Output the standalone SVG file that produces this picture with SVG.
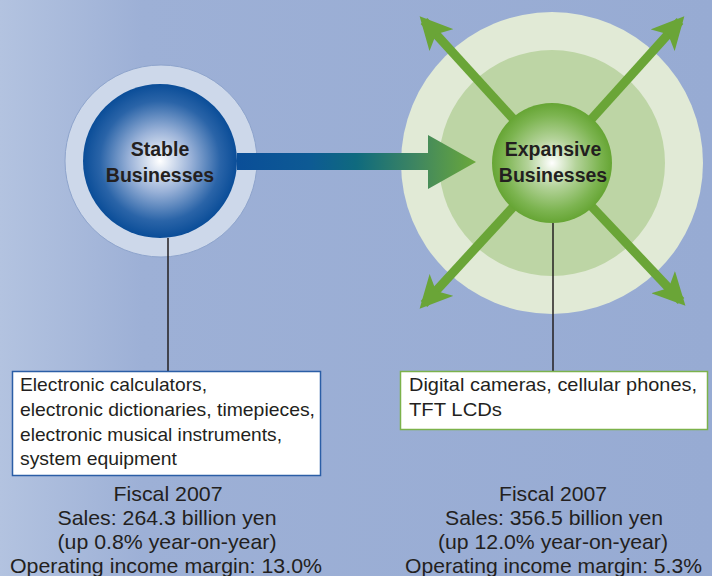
<svg xmlns="http://www.w3.org/2000/svg" width="712" height="576" viewBox="0 0 712 576">
<defs>
<linearGradient id="bg" x1="0" y1="0" x2="1" y2="0">
<stop offset="0" stop-color="#b3c3e0"/>
<stop offset="0.2" stop-color="#9db0d6"/>
<stop offset="1" stop-color="#97abd3"/>
</linearGradient>
<radialGradient id="blue" cx="0.5" cy="0.5" r="0.5">
<stop offset="0" stop-color="#ffffff"/>
<stop offset="0.4" stop-color="#9ab2d8"/>
<stop offset="0.78" stop-color="#2a64a8"/>
<stop offset="1" stop-color="#0a4d98"/>
</radialGradient>
<radialGradient id="green" cx="0.5" cy="0.5" r="0.5">
<stop offset="0" stop-color="#ffffff"/>
<stop offset="0.4" stop-color="#b4d39a"/>
<stop offset="0.8" stop-color="#7cb450"/>
<stop offset="1" stop-color="#66a534"/>
</radialGradient>
<linearGradient id="arr" x1="237" y1="0" x2="476" y2="0" gradientUnits="userSpaceOnUse">
<stop offset="0" stop-color="#0a4e98"/>
<stop offset="0.3" stop-color="#0d5a94"/>
<stop offset="0.5" stop-color="#0f6a7e"/>
<stop offset="0.75" stop-color="#3f8660"/>
<stop offset="1" stop-color="#6aa83a"/>
</linearGradient>
<marker id="gh" viewBox="0 0 10 10" refX="8" refY="5" markerWidth="3.6" markerHeight="3.6" orient="auto" markerUnits="strokeWidth">
<path d="M0,0 L10,5 L0,10 L2.5,5 Z" fill="#6aa537"/>
</marker>
<style>
.lbl{font-family:"Liberation Sans",Arial,sans-serif;font-weight:bold;font-size:19.5px;fill:#231f20;text-anchor:middle}
.box{font-family:"Liberation Sans",Arial,sans-serif;font-size:19px;fill:#231f20}
.fig{font-family:"Liberation Sans",Arial,sans-serif;font-size:21px;fill:#231f20;text-anchor:middle}
.diag{stroke:#6aa537;stroke-width:9;fill:none;marker-end:url(#gh)}
.lead{stroke:#231f20;stroke-width:1.5}
</style>
</defs>
<rect x="0" y="0" width="712" height="576" fill="url(#bg)"/>

<g id="expansive-halo">
<circle cx="552" cy="163" r="151" fill="#e1ead6"/>
<circle cx="552" cy="163" r="113" fill="#bdd5a5"/>
</g>

<g id="stable">
<circle cx="161" cy="161" r="96" fill="#cdd8ea" stroke="#8ea4cc" stroke-width="1"/>
<circle cx="160" cy="161" r="77" fill="url(#blue)"/>
<text class="lbl" x="160" y="156">Stable</text>
<text class="lbl" x="160" y="182">Businesses</text>
</g>

<g id="connectors">
<path d="M237,153 L428,153 L428,135 L476,162 L428,189 L428,170 L237,170 Z" fill="url(#arr)"/>
<line class="diag" x1="527" y1="134" x2="424" y2="21"/>
<line class="diag" x1="578" y1="134" x2="680" y2="21"/>
<line class="diag" x1="527" y1="192" x2="424" y2="304"/>
<line class="diag" x1="578" y1="192" x2="681" y2="301"/>
<line class="lead" x1="168" y1="238" x2="168" y2="371"/>
<line class="lead" x1="553" y1="223" x2="553" y2="371"/>
</g>

<g id="expansive">
<circle cx="552" cy="163" r="60" fill="url(#green)"/>
<text class="lbl" x="553" y="156">Expansive</text>
<text class="lbl" x="553" y="182">Businesses</text>
</g>

<g id="stable-products">
<rect x="12.5" y="371.5" width="308" height="104" fill="#ffffff" stroke="#2b5ea6" stroke-width="1.5"/>
<text class="box" x="20" y="391" textLength="187" lengthAdjust="spacingAndGlyphs">Electronic calculators,</text>
<text class="box" x="20" y="416" textLength="295" lengthAdjust="spacingAndGlyphs">electronic dictionaries, timepieces,</text>
<text class="box" x="20" y="441" textLength="262" lengthAdjust="spacingAndGlyphs">electronic musical instruments,</text>
<text class="box" x="20" y="465" textLength="157" lengthAdjust="spacingAndGlyphs">system equipment</text>
</g>

<g id="expansive-products">
<rect x="400.5" y="371.5" width="307" height="58" fill="#ffffff" stroke="#7cb24b" stroke-width="1.5"/>
<text class="box" x="409" y="391" textLength="288" lengthAdjust="spacingAndGlyphs">Digital cameras, cellular phones,</text>
<text class="box" x="409" y="416" textLength="93" lengthAdjust="spacingAndGlyphs">TFT LCDs</text>
</g>

<g id="stable-figures">
<text class="fig" x="168" y="501" textLength="109" lengthAdjust="spacingAndGlyphs">Fiscal 2007</text>
<text class="fig" x="167" y="525" textLength="219" lengthAdjust="spacingAndGlyphs">Sales: 264.3 billion yen</text>
<text class="fig" x="167" y="549" textLength="219" lengthAdjust="spacingAndGlyphs">(up 0.8% year-on-year)</text>
<text class="fig" x="166" y="573" textLength="312" lengthAdjust="spacingAndGlyphs">Operating income margin: 13.0%</text>
</g>

<g id="expansive-figures">
<text class="fig" x="553" y="501" textLength="108" lengthAdjust="spacingAndGlyphs">Fiscal 2007</text>
<text class="fig" x="554" y="525" textLength="218" lengthAdjust="spacingAndGlyphs">Sales: 356.5 billion yen</text>
<text class="fig" x="553" y="549" textLength="230" lengthAdjust="spacingAndGlyphs">(up 12.0% year-on-year)</text>
<text class="fig" x="553.5" y="573" textLength="297" lengthAdjust="spacingAndGlyphs">Operating income margin: 5.3%</text>
</g>
</svg>
